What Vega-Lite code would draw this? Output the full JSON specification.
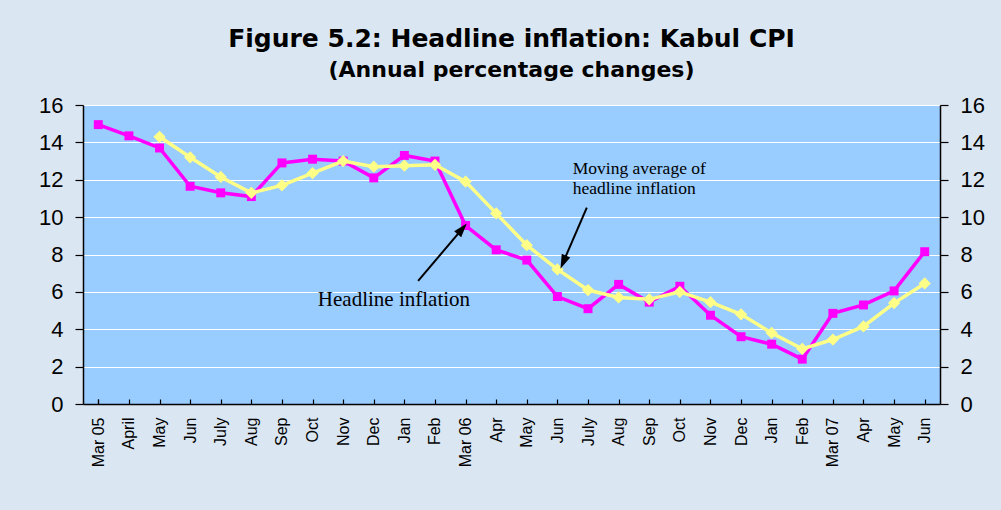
{
  "$schema": "https://vega.github.io/schema/vega-lite/v6.json",
  "width": 857,
  "height": 299,
  "autosize": {"type": "none"},
  "padding": {"left": 83, "top": 105, "right": 61, "bottom": 106},
  "background": "#dae6f2",
  "title": {
    "text": "Figure 5.2: Headline inflation: Kabul CPI",
    "subtitle": "(Annual percentage changes)",
    "anchor": "middle",
    "frame": "group",
    "font": "DejaVu Sans",
    "fontSize": 25,
    "fontWeight": "bold",
    "color": "black",
    "subtitleFont": "DejaVu Sans",
    "subtitleFontSize": 22,
    "subtitleFontWeight": "bold",
    "subtitleColor": "black",
    "subtitlePadding": 8,
    "offset": 13
  },
  "config": {
    "view": {"fill": "#99ccff", "stroke": "#808080", "strokeWidth": 1},
    "axis": {
      "domainColor": "black",
      "domainWidth": 1.5,
      "tickColor": "black",
      "tickWidth": 1.2,
      "labelColor": "black",
      "labelFont": "Liberation Sans",
      "gridColor": "white",
      "gridWidth": 1.2,
      "gridOpacity": 1,
      "title": null
    },
    "axisY": {"labelFontSize": 22, "tickSize": 8, "labelPadding": 12, "grid": false},
    "axisX": {"labelFontSize": 16, "labelAngle": -90, "tickSize": -5, "tickBand": "extent", "labelPadding": 18, "grid": false}
  },
  "datasets": {
    "cpi": [
      {"i": 0, "month": "Mar 05|2005-03", "headline": 14.95, "ma": null},
      {"i": 1, "month": "April|2005-04", "headline": 14.35, "ma": null},
      {"i": 2, "month": "May|2005-05", "headline": 13.7, "ma": 14.3},
      {"i": 3, "month": "Jun|2005-06", "headline": 11.65, "ma": 13.2},
      {"i": 4, "month": "July|2005-07", "headline": 11.3, "ma": 12.15},
      {"i": 5, "month": "Aug|2005-08", "headline": 11.1, "ma": 11.3},
      {"i": 6, "month": "Sep|2005-09", "headline": 12.9, "ma": 11.7},
      {"i": 7, "month": "Oct|2005-10", "headline": 13.1, "ma": 12.35},
      {"i": 8, "month": "Nov|2005-11", "headline": 13.0, "ma": 13.0},
      {"i": 9, "month": "Dec|2005-12", "headline": 12.1, "ma": 12.7},
      {"i": 10, "month": "Jan|2006-01", "headline": 13.3, "ma": 12.75},
      {"i": 11, "month": "Feb|2006-02", "headline": 13.0, "ma": 12.8},
      {"i": 12, "month": "Mar 06|2006-03", "headline": 9.55, "ma": 11.9},
      {"i": 13, "month": "Apr|2006-04", "headline": 8.25, "ma": 10.2},
      {"i": 14, "month": "May|2006-05", "headline": 7.7, "ma": 8.5},
      {"i": 15, "month": "Jun|2006-06", "headline": 5.75, "ma": 7.2},
      {"i": 16, "month": "July|2006-07", "headline": 5.1, "ma": 6.1},
      {"i": 17, "month": "Aug|2006-08", "headline": 6.4, "ma": 5.7},
      {"i": 18, "month": "Sep|2006-09", "headline": 5.45, "ma": 5.6},
      {"i": 19, "month": "Oct|2006-10", "headline": 6.3, "ma": 6.0},
      {"i": 20, "month": "Nov|2006-11", "headline": 4.75, "ma": 5.45},
      {"i": 21, "month": "Dec|2006-12", "headline": 3.6, "ma": 4.8},
      {"i": 22, "month": "Jan|2007-01", "headline": 3.2, "ma": 3.8},
      {"i": 23, "month": "Feb|2007-02", "headline": 2.4, "ma": 2.95},
      {"i": 24, "month": "Mar 07|2007-03", "headline": 4.85, "ma": 3.45},
      {"i": 25, "month": "Apr|2007-04", "headline": 5.3, "ma": 4.15},
      {"i": 26, "month": "May|2007-05", "headline": 6.05, "ma": 5.4},
      {"i": 27, "month": "Jun|2007-06", "headline": 8.15, "ma": 6.45}
    ]
  },
  "layer": [
    {
      "data": {"name": "cpi"},
      "encoding": {
        "x": {
          "field": "month",
          "type": "ordinal",
          "sort": {"field": "i", "op": "min"},
          "scale": {"paddingInner": 0, "paddingOuter": 0},
          "axis": {"labelExpr": "split(datum.label, '|')[0]"}
        }
      },
      "layer": [
        {
          "mark": {"type": "line", "color": "#ff00ff", "strokeWidth": 3.5},
          "encoding": {
            "y": {"field": "headline", "type": "quantitative", "scale": {"domain": [0, 16], "nice": false}, "axis": {"values": [0, 2, 4, 6, 8, 10, 12, 14, 16], "grid": true, "orient": "left"}}
          }
        },
        {
          "mark": {"type": "point", "shape": "square", "filled": true, "color": "#ff00ff", "size": 80, "opacity": 1},
          "encoding": {
            "y": {"field": "headline", "type": "quantitative", "axis": {"values": [0, 2, 4, 6, 8, 10, 12, 14, 16], "grid": true, "orient": "left"}}
          }
        },
        {
          "mark": {"type": "line", "color": "#ffff88", "strokeWidth": 3.5},
          "encoding": {
            "y": {"field": "ma", "type": "quantitative", "axis": {"values": [0, 2, 4, 6, 8, 10, 12, 14, 16], "grid": true, "orient": "left"}}
          }
        },
        {
          "mark": {"type": "point", "shape": "diamond", "filled": true, "color": "#ffff88", "size": 150, "opacity": 1},
          "encoding": {
            "y": {"field": "ma", "type": "quantitative", "axis": {"values": [0, 2, 4, 6, 8, 10, 12, 14, 16], "grid": true, "orient": "left"}}
          }
        }
      ]
    },
    {
      "encoding": {
        "x": {"field": "x", "type": "quantitative", "scale": {"domain": [0, 28], "nice": false, "zero": false}, "axis": null},
        "y": {"field": "y", "type": "quantitative", "axis": {"values": [0, 2, 4, 6, 8, 10, 12, 14, 16], "orient": "right"}}
      },
      "layer": [
        {
          "data": {"values": [
            {"arrow": "headline", "x": 10.95, "y": 6.59, "x2": 12.39, "y2": 9.37},
            {"arrow": "ma", "x": 16.46, "y": 10.51, "x2": 15.69, "y2": 7.59}
          ]},
          "mark": {"type": "rule", "color": "black", "strokeWidth": 2},
          "encoding": {"x2": {"field": "x2"}, "y2": {"field": "y2"}}
        },
        {
          "data": {"values": [{"x": 12.39, "y": 9.37}]},
          "mark": {"type": "point", "shape": "M0,-1L-0.65,1L0.65,1Z", "filled": true, "color": "black", "size": 200, "opacity": 1, "angle": 40},
          "encoding": {}
        },
        {
          "data": {"values": [{"x": 15.69, "y": 7.59}]},
          "mark": {"type": "point", "shape": "M0,-1L-0.65,1L0.65,1Z", "filled": true, "color": "black", "size": 200, "opacity": 1, "angle": 203},
          "encoding": {}
        },
        {
          "data": {"values": [{"x": 10.16, "y": 5.24, "text": "Headline inflation"}]},
          "mark": {"type": "text", "font": "Liberation Serif", "fontSize": 21, "color": "black", "align": "center", "baseline": "alphabetic"},
          "encoding": {"text": {"field": "text"}}
        },
        {
          "data": {"values": [
            {"x": 16.0, "y": 12.29, "text": "Moving average of"},
            {"x": 16.0, "y": 11.22, "text": "headline inflation"}
          ]},
          "mark": {"type": "text", "font": "Liberation Serif", "fontSize": 17.5, "color": "black", "align": "left", "baseline": "alphabetic"},
          "encoding": {"text": {"field": "text"}}
        }
      ]
    }
  ],
  "resolve": {"scale": {"x": "independent"}, "axis": {"x": "independent", "y": "independent"}}
}
